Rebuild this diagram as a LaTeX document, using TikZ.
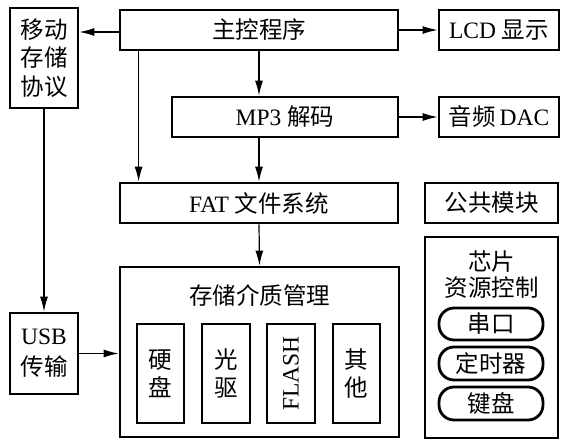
\documentclass[tikz,border=0pt]{standalone}
\usepackage{fontspec}
\setmainfont{Liberation Serif}
\newfontfamily\cjk{Noto Sans CJK SC}
\usetikzlibrary{arrows.meta,positioning}
\begin{document}
\begin{tikzpicture}[x=1pt,y=-1pt,
  box/.style={draw, line width=2.8pt, inner sep=0pt, font=\fontsize{23.5}{28}\selectfont, align=center},
  pill/.style={draw, line width=2.8pt, inner sep=0pt, rounded corners=15pt, font=\fontsize{23.5}{28}\selectfont},
  lbl/.style={inner sep=0pt, font=\fontsize{23.5}{28}\selectfont, align=center},
  arr/.style={line width=1.2pt, -{Latex[length=15pt,width=8pt]}},
  ln/.style={line width=1pt}]
\useasboundingbox (0,0) rectangle (567,447);
% top row
\node[box, minimum width=278pt, minimum height=40pt] (main) at (259,30) {{\cjk 主控程序}};
\node[box, minimum width=120pt, minimum height=40pt] (lcd) at (499,30) {LCD {\cjk 显示}};
\node[box, minimum width=68pt, minimum height=100pt, font=\fontsize{23.5}{28.5}\selectfont] (mov) at (44,58) {{\cjk 移动}\\{\cjk 存储}\\{\cjk 协议}};
% second row
\node[box, minimum width=226pt, minimum height=40pt] (mp3) at (285,117) {MP3 {\cjk 解码}};
\node[box, minimum width=120pt, minimum height=40pt] (dac) at (499,117) {{\cjk 音频}\,DAC};
% third row
\node[box, minimum width=278pt, minimum height=40pt] (fat) at (259,203) {FAT {\cjk 文件系统}};
\node[box, minimum width=133pt, minimum height=40pt] (pub) at (491.5,203) {{\cjk 公共模块}};
% storage
\node[box, minimum width=279pt, minimum height=170pt] (stor) at (259.5,352) {};
\node[lbl] (stort) at (259.5,296) {{\cjk 存储介质管理}};
\node[box, minimum width=47pt, minimum height=99pt, font=\fontsize{23.5}{28}\selectfont] (hd) at (160.5,373.5) {{\cjk 硬}\\{\cjk 盘}};
\node[box, minimum width=48pt, minimum height=99pt, font=\fontsize{23.5}{28}\selectfont] (cd) at (226,373.5) {{\cjk 光}\\{\cjk 驱}};
\node[box, minimum width=48pt, minimum height=99pt] (fl) at (291,373.5) {};
\node[lbl, rotate=90] (flt) at (291,373.5) {FLASH};
\node[box, minimum width=47pt, minimum height=99pt, font=\fontsize{23.5}{28}\selectfont] (ot) at (356.5,373.5) {{\cjk 其}\\{\cjk 他}};
% usb
\node[box, minimum width=68pt, minimum height=81pt, font=\fontsize{23.5}{31}\selectfont] (usb) at (44,353.5) {USB\\{\cjk 传输}};
% chip resources
\node[box, minimum width=133pt, minimum height=201pt] (chip) at (491.5,337.5) {};
\node[lbl, font=\fontsize{23.5}{26}\selectfont] (chipt) at (491.5,275) {{\cjk 芯片}\\{\cjk 资源控制}};
\node[pill, minimum width=104pt, minimum height=32pt] (ser) at (491,324) {{\cjk 串口}};
\node[pill, minimum width=104pt, minimum height=33pt] (tim) at (491,363.5) {{\cjk 定时器}};
\node[pill, minimum width=104pt, minimum height=33pt] (key) at (491,403.5) {{\cjk 键盘}};
% connectors
\draw[arr] (main.west |- 0,32) -- (mov.east |- 0,32);
\draw[arr] (main.east) -- (lcd.west);
\draw[arr] (main.south) -- (main.south |- mp3.north);
\draw[arr] (mp3.south -| fat.north) -- (fat.north);
\draw[arr] ([xshift=20pt]main.south west) -- ([xshift=20pt]fat.north west);
\draw[arr] (mp3.east) -- (dac.west);
\draw[arr] (fat.south) -- (stor.north);
\draw[arr] (mov.south) -- (usb.north);
\draw[arr] (usb.east) -- (usb.east -| stor.west);
\end{tikzpicture}
\end{document}
